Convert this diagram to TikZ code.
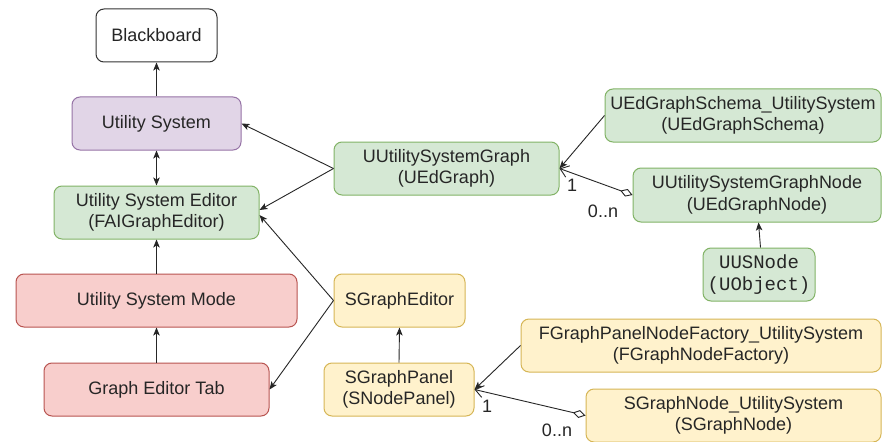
\documentclass[tikz,border=0pt]{standalone}
\usepackage{fontspec}
\setmainfont{Liberation Sans}
\newfontfamily\mymono{Liberation Mono}
\usetikzlibrary{arrows.meta}
\definecolor{gfill}{HTML}{D5E8D4}
\definecolor{gline}{HTML}{82B366}
\definecolor{pfill}{HTML}{E1D5E7}
\definecolor{pline}{HTML}{9673A6}
\definecolor{rfill}{HTML}{F8CECC}
\definecolor{rline}{HTML}{B85450}
\definecolor{yfill}{HTML}{FFF2CC}
\definecolor{yline}{HTML}{D6B656}
\definecolor{txt}{HTML}{262626}
\definecolor{wline}{HTML}{333333}
\tikzset{
  box/.style={draw, rounded corners=8pt, minimum height=53pt, inner sep=0pt,
    align=center, font=\fontsize{18}{21.6}\selectfont, text=txt, line width=1pt},
  whitebox/.style={box, draw=wline, fill=white},
  greenbox/.style={box, draw=gline, fill=gfill},
  purplebox/.style={box, draw=pline, fill=pfill},
  redbox/.style={box, draw=rline, fill=rfill},
  yellowbox/.style={box, draw=yline, fill=yfill},
  conn/.style={draw=black!85, line width=0.9pt, -{Stealth[length=8pt,width=6.5pt,inset=2pt]}},
  biconn/.style={draw=black!85, line width=0.9pt, {Stealth[length=8pt,width=6.5pt,inset=2pt]}-{Stealth[length=8pt,width=6.5pt,inset=2pt]}},
  aggr/.style={draw=black!85, line width=0.9pt, {Diamond[open,fill=white,length=13pt,width=8pt]}-{Straight Barb[length=8pt,width=12pt]}},
  mult/.style={font=\fontsize{18}{21.6}\selectfont, text=txt, inner sep=0pt}
}
\begin{document}
\begin{tikzpicture}[x=1pt,y=-1pt]
\useasboundingbox (0,0) rectangle (882,441);
\fill[white] (0,0) rectangle (882,441);

\node[whitebox, minimum width=121pt] (bb) at (156.5,35.5) {Blackboard};
\node[purplebox, minimum width=169pt] (us) at (156.5,123.5) {Utility System};
\node[greenbox, minimum width=205pt] (use) at (156.5,212.5) {Utility System Editor\\(FAIGraphEditor)};
\node[redbox, minimum width=281pt] (mode) at (156.5,300.5) {Utility System Mode};
\node[redbox, minimum width=225pt] (get) at (156.5,389.5) {Graph Editor Tab};

\node[yellowbox, minimum width=131pt] (sge) at (399.5,300.5) {SGraphEditor};
\node[yellowbox, minimum width=150pt] (sgp) at (399,389.5) {SGraphPanel\\(SNodePanel)};
\node[yellowbox, minimum width=360pt] (fgp) at (701,345.5) {FGraphPanelNodeFactory\_UtilitySystem\\(FGraphNodeFactory)};
\node[yellowbox, minimum width=295pt] (sgn) at (733.5,415.5) {SGraphNode\_UtilitySystem\\(SGraphNode)};

\node[greenbox, minimum width=225pt] (uusg) at (446.5,168.5) {UUtilitySystemGraph\\(UEdGraph)};
\node[greenbox, minimum width=276pt] (sch) at (743,115.5) {UEdGraphSchema\_UtilitySystem\\(UEdGraphSchema)};
\node[greenbox, minimum width=248pt, minimum height=54pt] (uusgn) at (757,195) {UUtilitySystemGraphNode\\(UEdGraphNode)};
\node[greenbox, minimum width=112pt, font=\mymono\fontsize{19}{22.5}\selectfont] (uusn) at (759,274.5) {UUSNode\\(UObject)};

\draw[conn] (us.north) -- (bb.south);
\draw[biconn] (us.south) -- (use.north);
\draw[conn] (mode.north) -- (use.south);
\draw[conn] (get.north) -- (mode.south);
\draw[conn] (uusg.west) -- (us.east);
\draw[conn] (uusg.west) -- ([yshift=2.5pt]use.east);
\draw[conn] (sge.west) -- ([yshift=-2.5pt]use.east);
\draw[conn] (sge.west) -- (get.east);
\draw[conn] (sgp.north) -- (sge.south);
\draw[conn] (sch.west) -- (uusg.east);
\draw[conn] (fgp.west) -- (sgp.east);
\draw[conn] ([xshift=1.5pt]uusn.north) -- ([xshift=1.5pt]uusgn.south);
\draw[aggr] (uusgn.west) -- (uusg.east);
\draw[aggr] (sgn.west) -- (sgp.east);

\node[mult] (m1) at (572,185) {1};
\node[mult] (m2) at (603,211) {0..n};
\node[mult] (m3) at (487,406) {1};
\node[mult] (m4) at (557,430.5) {0..n};
\end{tikzpicture}
\end{document}
